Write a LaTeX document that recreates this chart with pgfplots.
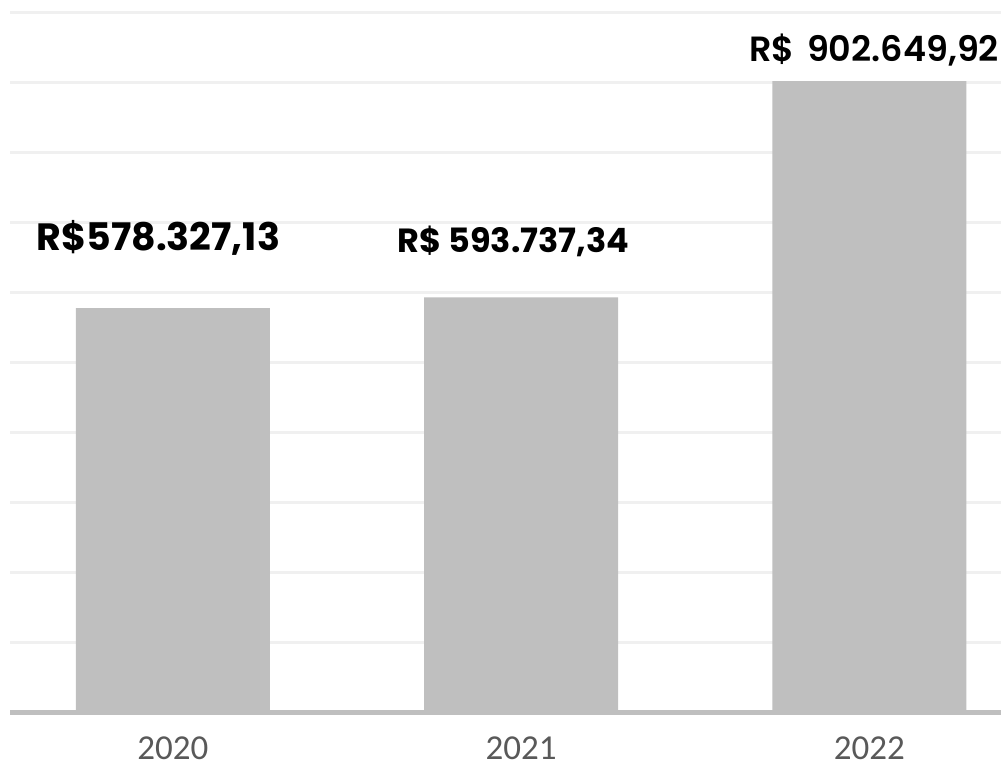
\documentclass[border=0pt]{standalone}
\usepackage{pgfplots}
\pgfplotsset{compat=1.18}
\usepackage{fontspec}
\setmainfont{Carlito}
\newfontfamily\pop{Poppins}
\newfontfamily\popsb{Poppins SemiBold}
\definecolor{barc}{HTML}{BFBFBF}
\definecolor{gridc}{HTML}{F0F0F0}
\definecolor{tickc}{HTML}{595959}
\begin{document}
\begin{tikzpicture}
\begin{axis}[
  name=ax,
  scale only axis,
  width=991pt, height=700pt,
  xmin=-0.468, xmax=2.378,
  ymin=0, ymax=1000000,
  ytick={100000,200000,300000,400000,500000,600000,700000,800000,900000,1000000},
  yticklabels={},
  ymajorgrids,
  grid style={line width=3pt, gridc},
  axis line style={draw=none},
  major tick length=0pt,
  xtick={0,1,2},
  xticklabels={2020,2021,2022},
  xticklabel style={font=\fontsize{35}{40}\selectfont, text=tickc, anchor=base, yshift=-47pt, inner sep=0pt},
  clip=false,
]
\addplot[ybar, bar width=194pt, fill=barc, draw=none, bar shift=0pt] coordinates {
  (0,578327.13) (1,593737.34) (2,902649.92)
};
\draw[barc, line width=5pt] (axis cs:-0.468,0) -- (axis cs:2.378,0);
\node[anchor=base, font=\pop\bfseries\fontsize{38}{44}\selectfont, inner sep=0pt] at (axis cs:-0.042,660000) {R\$578.327,13};
\node[anchor=base, font=\pop\bfseries\fontsize{33.5}{40}\selectfont, inner sep=0pt] at (axis cs:0.978,657143) {R\$ 593.737,34};
\node[anchor=base, font=\popsb\fontsize{35}{42}\selectfont, inner sep=0pt] at (axis cs:2.014,930000) {R\$\hspace{0.35em}902.649,92};
\end{axis}
\pgfresetboundingbox
\path ([xshift=-10pt,yshift=-54pt]ax.south west) rectangle ([yshift=13pt]ax.north east);
\end{tikzpicture}
\end{document}
